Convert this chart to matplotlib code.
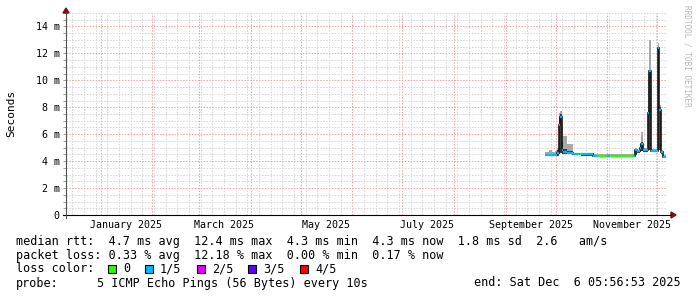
import matplotlib
matplotlib.use('Agg')
import matplotlib.pyplot as plt
import matplotlib.dates as mdates
import matplotlib.transforms as mtransforms
from matplotlib.ticker import MultipleLocator, FuncFormatter, NullFormatter
from matplotlib.patches import Rectangle, Polygon
from matplotlib.lines import Line2D
import pandas as pd

W, H = 697, 297
MONO = 'DejaVu Sans Mono'

# graph window
start = pd.Timestamp('2024-12-11 05:56:53')
end = pd.Timestamp('2025-12-06 05:56:53')

# step edges (one more than the values)
edges = pd.to_datetime([
    '2025-09-24 22:00', '2025-09-27 01:00', '2025-09-28 20:00', '2025-09-30 16:00',
    '2025-10-02 03:00', '2025-10-03 00:00', '2025-10-03 22:00', '2025-10-04 20:00',
    '2025-10-05 10:00', '2025-10-07 20:00', '2025-10-11 10:00', '2025-10-15 12:00',
    '2025-10-16 12:00', '2025-10-23 10:00', '2025-10-25 20:00', '2025-11-01 00:00',
    '2025-11-02 18:00', '2025-11-16 10:00', '2025-11-17 15:00', '2025-11-18 15:00',
    '2025-11-20 15:00', '2025-11-21 13:00', '2025-11-22 10:00', '2025-11-25 10:00',
    '2025-11-26 00:00', '2025-11-27 01:00', '2025-12-01 06:00', '2025-12-02 08:00',
    '2025-12-03 01:00', '2025-12-03 12:00', '2025-12-04 10:00', '2025-12-06 05:00',
])
median_ms = [4.45, 4.45, 4.45, 4.45, 4.6, 6.7, 7.3, 4.8, 4.65, 4.6, 4.5, 4.5,
             4.5, 4.4, 4.4, 4.4, 4.4, 4.4, 4.85, 4.75, 5.0, 5.3, 4.8, 7.6,
             10.7, 4.75, 12.4, 7.8, 5.2, 4.65, 4.3]
smoke_lo = [4.35, 4.35, 4.35, 4.35, 4.4, 4.5, 4.6, 4.5, 4.5, 4.5, 4.45, 4.45,
            4.4, 4.35, 4.35, 4.35, 4.35, 4.35, 4.45, 4.6, 4.7, 4.75, 4.7, 4.8,
            4.8, 4.65, 4.8, 4.8, 4.7, 4.5, 4.2]
smoke_hi = [4.65, 4.8, 4.7, 4.75, 5.0, 7.6, 7.7, 6.6, 5.9, 5.3, 4.6, 4.6,
            4.6, 4.5, 4.5, 4.5, 4.5, 4.55, 5.0, 4.85, 5.3, 6.2, 4.95, 10.5,
            13.0, 4.9, 12.8, 8.2, 5.5, 4.8, 4.45]
core_hi = [4.5, 4.55, 4.5, 4.55, 4.8, 7.3, 7.5, 5.4, 4.9, 4.75, 4.55, 4.55,
           4.55, 4.45, 4.45, 4.45, 4.45, 4.45, 4.9, 4.8, 5.1, 5.4, 4.85, 7.8,
           10.8, 4.8, 12.5, 8.0, 5.3, 4.7, 4.35]
loss_idx = [1, 1, 1, 1, 1, 1, 1, 1, 1, 1, 1, 0,
            1, 1, 0, 1, 0, 1, 1, 1, 1, 1, 1, 1,
            1, 1, 1, 1, 1, 1, 1]

loss_labels = ['0', '1/5', '2/5', '3/5', '4/5']
loss_colors = ['#26ff00', '#00b8ff', '#e000ff', '#5e00ff', '#ff0000']

rtt_stats = [('4.7', 'ms avg'), ('12.4', 'ms max'), ('4.3', 'ms min'),
             ('4.3', 'ms now'), ('1.8', 'ms sd'), ('2.6', '  am/s')]
loss_stats = [('0.33', '% avg'), ('12.18', '% max'), ('0.00', '% min'), ('0.17', '% now')]
probe_text = '5 ICMP Echo Pings (56 Bytes) every 10s'
end_text = 'end: Sat Dec  6 05:56:53 2025'


def fx(x):
    return x / W


def fy(y):
    return 1 - y / H


fig = plt.figure(figsize=(W / 100, H / 100), dpi=100)
fig.patch.set_facecolor('white')
ax = fig.add_axes([fx(66), fy(215), 600 / W, (215 - 13) / H])
ax.set_xlim(start, end)
ax.set_ylim(0, 15)
for s in ax.spines.values():
    s.set_visible(False)

# grid
ax.xaxis.set_major_locator(mdates.MonthLocator())
ax.xaxis.set_minor_locator(mdates.WeekdayLocator(byweekday=mdates.SU))
ax.xaxis.set_major_formatter(NullFormatter())
ax.yaxis.set_major_locator(MultipleLocator(2))
ax.yaxis.set_minor_locator(MultipleLocator(0.5))
ax.yaxis.set_major_formatter(FuncFormatter(lambda v, p: '0' if v == 0 else f'{v:.0f} m'))
ax.grid(which='major', color='#f2a0a0', lw=0.7, ls=(0, (1.5, 1.5)))
ax.grid(which='minor', color='#d4d4d4', lw=0.7, ls=(0, (1.5, 1.5)))
ax.set_axisbelow(True)
ax.tick_params(axis='y', which='both', direction='out', length=2, width=0.6,
               color='#909090', pad=2.5, labelsize=7.2, labelfontfamily=MONO)
ax.tick_params(axis='x', which='both', length=0)

# smoke
hi_ext = smoke_hi + [smoke_hi[-1]]
lo_ext = smoke_lo + [smoke_lo[-1]]
core_ext = core_hi + [core_hi[-1]]
ax.fill_between(edges, lo_ext, hi_ext, step='post', color='#a8a8a8', lw=0, zorder=2)
ax.fill_between(edges, lo_ext, core_ext, step='post', color='#3a3a3a', lw=0, zorder=3)

# median line, coloured by loss
for i, m in enumerate(median_ms):
    if i > 0:
        ax.plot([edges[i], edges[i]], [median_ms[i - 1], m], color='#1a1a1a',
                lw=1.2, zorder=4)
    ax.plot([edges[i], edges[i + 1]], [m, m], color=loss_colors[loss_idx[i]],
            lw=1.6, solid_capstyle='butt', zorder=5)

# x labels: every second month, centred half a month after the month start
lab_tr = mtransforms.blended_transform_factory(ax.transData, fig.transFigure)
for month in [1, 3, 5, 7, 9, 11]:
    ms = pd.Timestamp(2025, month, 1)
    ax.text(ms + pd.Timedelta(days=15), fy(225), ms.strftime('%B %Y'),
            transform=lab_tr, ha='center', va='center', fontsize=7.2,
            family=MONO, color='black')

# axes with arrows
fig.add_artist(Line2D([fx(63), fx(671)], [fy(215), fy(215)], color='black', lw=0.8))
fig.add_artist(Line2D([fx(66), fx(66)], [fy(218), fy(13)], color='#505050', lw=0.8))
fig.add_artist(Polygon([(fx(671), fy(212)), (fx(671), fy(218)), (fx(676), fy(215))],
                       closed=True, color='#7f1010', transform=fig.transFigure))
fig.add_artist(Polygon([(fx(63), fy(13)), (fx(69), fy(13)), (fx(66), fy(8))],
                       closed=True, color='#7f1010', transform=fig.transFigure))

fig.text(fx(11), fy(113), 'Seconds', rotation=90, ha='center', va='center',
         fontsize=8, family=MONO)
fig.text(fx(687), fy(5), 'RRDTOOL / TOBI OETIKER', rotation=270, ha='center',
         va='top', fontsize=5.6, family=MONO, color='#b8b8b8')

# legend block
line1 = 'median rtt:' + ''.join(f'  {v} {u}' for v, u in rtt_stats)
line2 = 'packet loss:' + ''.join((' ' if i == 0 else '  ') + f'{v} {u}'
                                 for i, (v, u) in enumerate(loss_stats))
fig.text(fx(16), fy(241), line1, ha='left', va='center', fontsize=8.5, family=MONO)
fig.text(fx(16), fy(255), line2, ha='left', va='center', fontsize=8.5, family=MONO)
fig.text(fx(16), fy(269), 'loss color:', ha='left', va='center', fontsize=8.5, family=MONO)
box_x = [108, 145, 197, 248, 300]
for bx, lab, col in zip(box_x, loss_labels, loss_colors):
    fig.add_artist(Rectangle((fx(bx), fy(273)), 8 / W, 8 / H, facecolor=col,
                             edgecolor='black', lw=0.8, transform=fig.transFigure))
    fig.text(fx(bx + 15), fy(269), lab, ha='left', va='center', fontsize=8.5, family=MONO)
fig.text(fx(16), fy(283), 'probe:', ha='left', va='center', fontsize=8.5, family=MONO)
fig.text(fx(97), fy(283), probe_text, ha='left', va='center', fontsize=8.5, family=MONO)
fig.text(fx(681), fy(283), end_text, ha='right', va='center', fontsize=8.5, family=MONO)

fig.savefig('out.png', dpi=100, facecolor='white')
